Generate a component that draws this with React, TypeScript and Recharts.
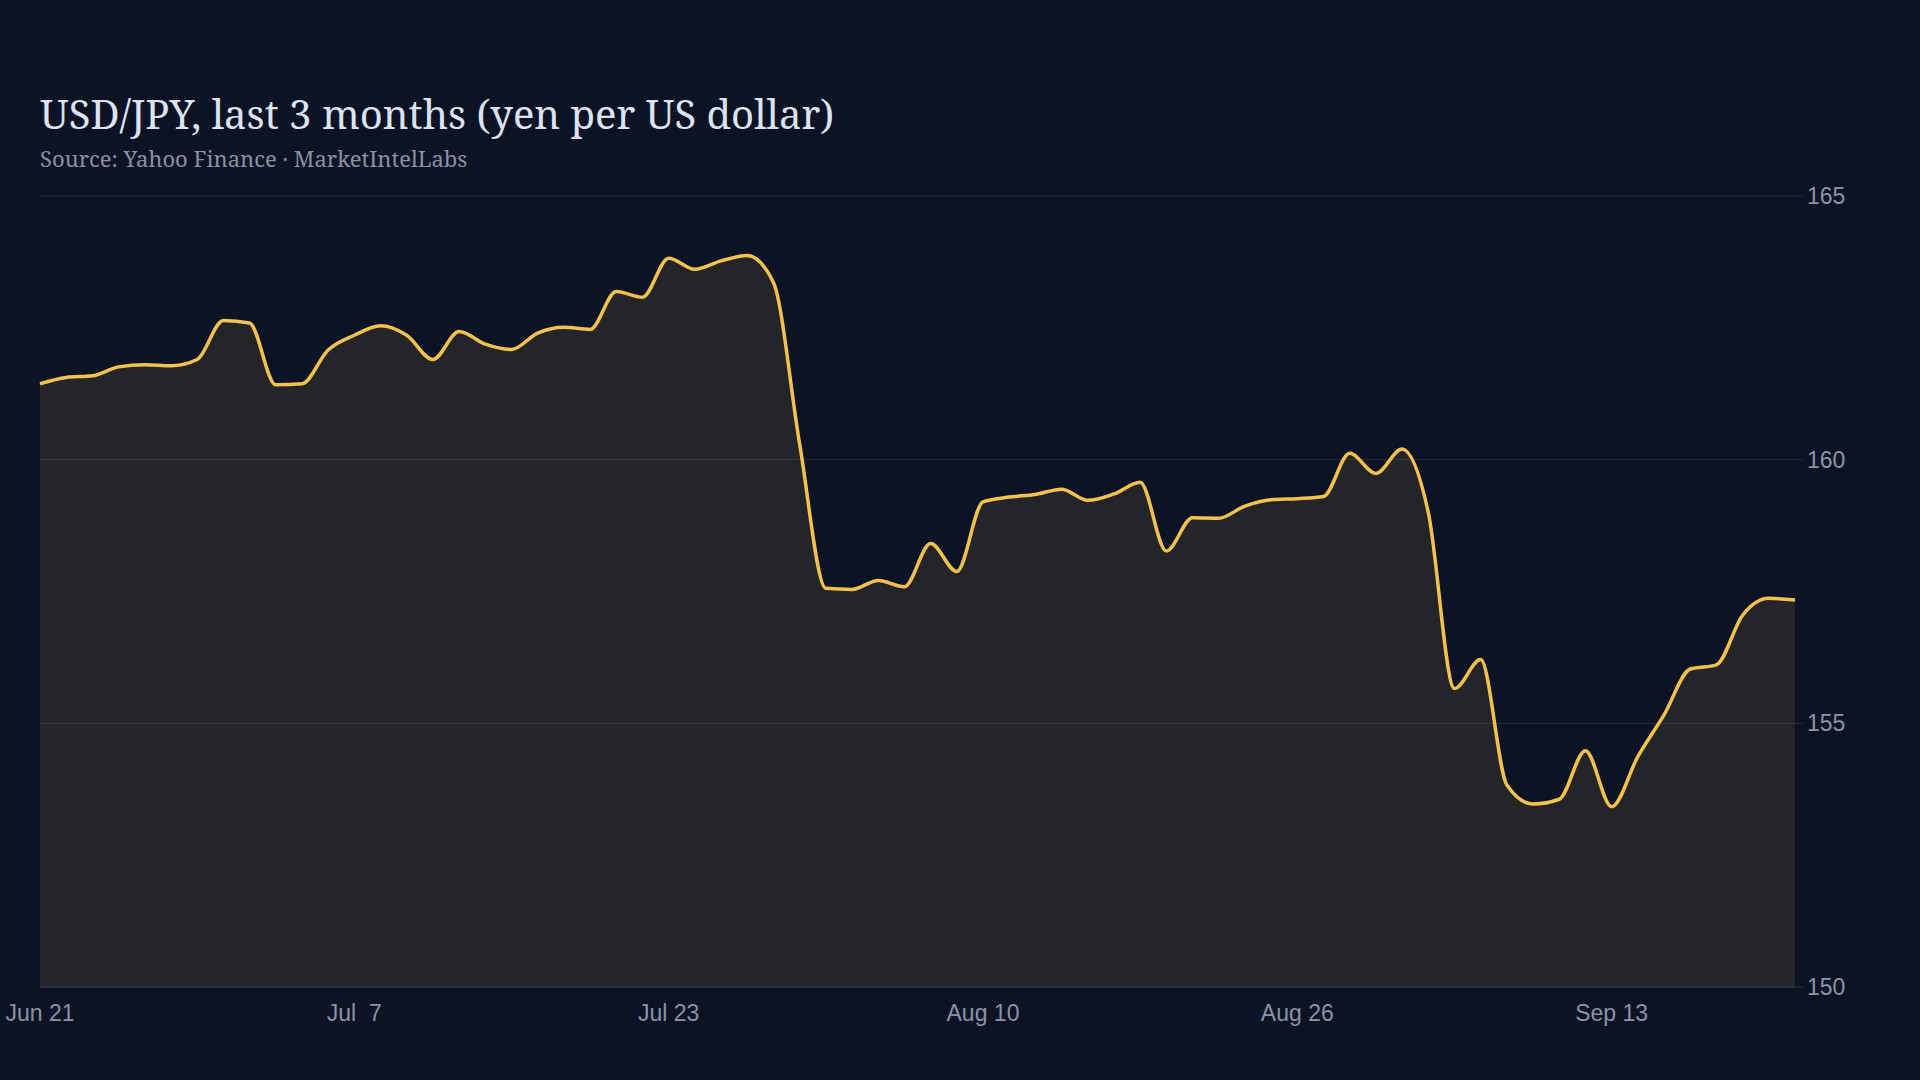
import React from 'react';
import { AreaChart, Area, XAxis, YAxis, CartesianGrid } from 'recharts';

const dates: string[] = [
  'Jun 21', 'Jun 22', 'Jun 23', 'Jun 24', 'Jun 25', 'Jun 28', 'Jun 29', 'Jun 30',
  'Jul 1', 'Jul 2', 'Jul 5', 'Jul 6', 'Jul 7', 'Jul 8', 'Jul 9',
  'Jul 12', 'Jul 13', 'Jul 14', 'Jul 15', 'Jul 16',
  'Jul 19', 'Jul 20', 'Jul 21', 'Jul 22', 'Jul 23',
  'Jul 26', 'Jul 27', 'Jul 28', 'Jul 29', 'Jul 30',
  'Aug 2', 'Aug 3', 'Aug 4', 'Aug 5', 'Aug 6',
  'Aug 9', 'Aug 10', 'Aug 11', 'Aug 12', 'Aug 13',
  'Aug 16', 'Aug 17', 'Aug 18', 'Aug 19', 'Aug 20',
  'Aug 23', 'Aug 24', 'Aug 25', 'Aug 26', 'Aug 27',
  'Aug 30', 'Aug 31', 'Sep 1', 'Sep 2', 'Sep 3',
  'Sep 6', 'Sep 7', 'Sep 8', 'Sep 9', 'Sep 10',
  'Sep 13', 'Sep 14', 'Sep 15', 'Sep 16', 'Sep 17',
  'Sep 20', 'Sep 21', 'Sep 22',
];

const usdJpy: number[] = [
  161.44, 161.56, 161.59, 161.76, 161.80, 161.78, 161.90, 162.64, 162.59, 161.42,
  161.44, 162.08, 162.36, 162.54, 162.36, 161.90, 162.43, 162.19, 162.09, 162.40,
  162.51, 162.47, 163.19, 163.08, 163.82, 163.61, 163.77, 163.87, 163.36, 160.30,
  157.56, 157.54, 157.71, 157.59, 158.41, 157.88, 159.20, 159.29, 159.34, 159.44,
  159.23, 159.35, 159.57, 158.27, 158.90, 158.89, 159.12, 159.24, 159.26, 159.30,
  160.12, 159.74, 160.20, 159.00, 155.66, 156.21, 153.83, 153.47, 153.56, 154.48,
  153.42, 154.37, 155.16, 156.03, 156.11, 157.05, 157.37, 157.34,
];

const xTicks: string[] = ['Jun 21', 'Jul 7', 'Jul 23', 'Aug 10', 'Aug 26', 'Sep 13'];
const xTickLabels: string[] = ['Jun 21', 'Jul\u00a0 7', 'Jul 23', 'Aug 10', 'Aug 26', 'Sep 13'];
const yTicks: number[] = [150, 155, 160, 165];

const title = 'USD/JPY, last 3 months (yen per US dollar)';
const subtitle = 'Source: Yahoo Finance \u00b7 MarketIntelLabs';

const data = dates.map((d, i) => ({ date: d, value: usdJpy[i] }));

const BG = '#0c1324';
const LINE = '#f2c14e';
const GRID = '#262d3b';
const TICK = '#8b93a6';

export default function App() {
  return (
    <div
      style={{
        position: 'absolute',
        left: 0,
        top: 0,
        width: 1920,
        height: 1080,
        background: BG,
        overflow: 'hidden',
      }}
    >
      <div
        style={{
          position: 'absolute',
          left: 40,
          top: 90,
          fontFamily: '"Noto Serif", "DejaVu Serif", serif',
          fontSize: 40,
          color: '#dce3f2',
          lineHeight: '48px',
          whiteSpace: 'nowrap',
        }}
      >
        {title}
      </div>
      <div
        style={{
          position: 'absolute',
          left: 40,
          top: 145,
          fontFamily: '"Noto Serif", "DejaVu Serif", serif',
          fontSize: 22,
          color: '#8a91a3',
          lineHeight: '26px',
          whiteSpace: 'nowrap',
        }}
      >
        {subtitle}
      </div>
      <div style={{ position: 'absolute', left: 0, top: 0 }}>
        <AreaChart
          width={1920}
          height={1080}
          data={data}
          margin={{ top: 196, right: 0, bottom: 63, left: 40 }}
        >
          <CartesianGrid horizontal vertical={false} stroke={GRID} strokeWidth={1} />
          <XAxis
            dataKey="date"
            ticks={xTicks}
            interval={0}
            height={30}
            axisLine={{ stroke: '#343944' }}
            tickLine={false}
            tickSize={0}
            tickMargin={18}
            tick={{ fill: TICK, fontSize: 23, fontFamily: '"Liberation Sans", Arial, sans-serif' }}
            tickFormatter={(v: string) => {
              const k = xTicks.indexOf(v);
              return k >= 0 ? xTickLabels[k] : v;
            }}
          />
          <YAxis
            orientation="right"
            width={125}
            domain={[150, 165]}
            ticks={yTicks}
            allowDataOverflow
            axisLine={false}
            tickLine={{ stroke: GRID }}
            tickSize={8}
            tickMargin={4}
            tick={{ fill: TICK, fontSize: 23, fontFamily: '"Liberation Sans", Arial, sans-serif' }}
          />
          <Area
            type="monotone"
            dataKey="value"
            stroke={LINE}
            strokeWidth={3.5}
            fill={LINE}
            fillOpacity={0.1}
            baseValue={150}
            dot={false}
            activeDot={false}
            isAnimationActive={false}
          />
        </AreaChart>
      </div>
    </div>
  );
}
